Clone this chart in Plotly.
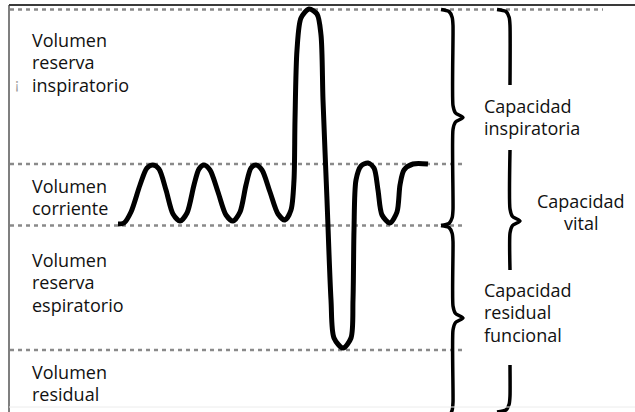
import plotly.graph_objects as go

# ---- Spirogram trace (time axis, volume axis; arbitrary units) ----
time = [118, 124, 131, 140, 147, 153, 159, 166, 173, 180, 187, 194, 199, 204, 210, 218,
        226, 233, 240, 246, 251, 256, 262, 270, 278, 285, 291, 294, 295, 297, 301, 309,
        317, 321, 323, 327, 331, 334, 343, 351, 353, 354, 356, 361, 368, 374, 378, 382,
        390, 397, 400, 404, 413, 428]
volume = [188, 189, 200, 227, 244, 247, 243, 222, 198, 191, 199, 227, 243, 247, 242, 220,
          197, 191, 200, 227, 244, 247, 242, 220, 198, 192, 202, 232, 292, 362, 394, 403,
          398, 377, 312, 212, 112, 74, 64, 74, 112, 182, 232, 246, 249, 244, 222, 197,
          189, 200, 227, 242, 248, 248]

# ---- Reference levels (dotted lines) ----
level_volume = [402.5, 248, 186.5, 62]
level_end = [603, 466, 466, 466]
level_start = 10

# ---- Volume labels (left column) ----
vol_labels = [["Volumen", "reserva", "inspiratorio"],
              ["Volumen", "corriente"],
              ["Volumen", "reserva", "espiratorio"],
              ["Volumen", "residual"]]
vol_label_top = [372, 226, 152, 40]

# ---- Capacity labels ----
cap_labels = [["Capacidad", "inspiratoria"],
              ["Capacidad", "vital"],
              ["Capacidad", "residual", "funcional"]]
cap_label_top = [306, 211, 122]
cap_label_x = [482, 581, 482]
cap_label_anchor = ["left", "center", "left"]

# ---- Braces: (x, top, bottom, tip, curl, gaps) ----
braces = [
    (453, 402.5, 186.5, 294.5, 12, []),
    (453, 186.5, -6, 94, 12, []),
    (510, 402.5, 0, 191, 13, [(327, 262), (142, 47)]),
]

W, H = 635, 412
fig = go.Figure()

# dotted level lines
for v, xe in zip(level_volume, level_end):
    fig.add_trace(go.Scatter(x=[level_start, xe], y=[v, v], mode="lines",
                             line=dict(color="#8a8a8a", width=2.5, dash="4px,4px"),
                             hoverinfo="skip", showlegend=False))

# spirogram
fig.add_trace(go.Scatter(x=time, y=volume, mode="lines",
                         line=dict(color="black", width=5, shape="spline", smoothing=0.8),
                         hoverinfo="skip", showlegend=False))


def vertical(x, y1, y2, gaps):
    out = [(x, y1)]
    for g_hi, g_lo in gaps:
        if y1 > g_hi > y2:
            out += [(x, g_hi), (None, None), (x, g_lo)]
    out.append((x, y2))
    return out


def brace_pts(x, top, bottom, tip, curl, gaps, tipw=10):
    pts = [(x - curl, top), (x - 4, top - 2), (x - 0.8, top - 8)]
    pts += vertical(x, top - 16, tip + 12, gaps)
    pts += [(x + 2.5, tip + 4.5), (x + tipw, tip), (x + 2.5, tip - 4.5)]
    pts += vertical(x, tip - 12, bottom + 16, gaps)
    pts += [(x - 0.8, bottom + 8), (x - 4, bottom + 2), (x - curl, bottom)]
    return pts


for bx, bt, bb, btip, bc, bg in braces:
    pts = brace_pts(bx, bt, bb, btip, bc, bg)
    fig.add_trace(go.Scatter(x=[p[0] for p in pts], y=[p[1] for p in pts], mode="lines",
                             line=dict(color="black", width=3.5, shape="spline", smoothing=0.6),
                             connectgaps=False, hoverinfo="skip", showlegend=False))

font = dict(family="Open Sans", size=18, color="#111111")
annotations = []
LS = 22.3
for lines, top in zip(vol_labels, vol_label_top):
    for i, t in enumerate(lines):
        annotations.append(dict(x=30, y=top - i * LS, text=t, showarrow=False,
                                xanchor="left", yanchor="middle", font=font))
for lines, top, cx, anc in zip(cap_labels, cap_label_top, cap_label_x, cap_label_anchor):
    for i, t in enumerate(lines):
        annotations.append(dict(x=cx, y=top - i * LS, text=t, showarrow=False,
                                xanchor=anc, yanchor="middle", font=font))
# faint artifact mark
annotations.append(dict(x=17, y=H - 83, text="¡", showarrow=False, xanchor="center",
                        yanchor="middle", font=dict(family="Open Sans", size=15, color="#9a9a9a")))

shapes = [
    dict(type="line", x0=9, x1=9, y0=H - 5, y1=0, line=dict(color="#555555", width=1.5)),
    dict(type="line", x0=9, x1=W, y0=H - 5, y1=H - 5, line=dict(color="#3a3a3a", width=2)),
    dict(type="line", x0=9, x1=W, y0=H - 407, y1=H - 407, line=dict(color="#ececec", width=1)),
]

fig.update_layout(
    width=W, height=H, margin=dict(l=0, r=0, t=0, b=0),
    paper_bgcolor="white", plot_bgcolor="white",
    xaxis=dict(range=[0, W], visible=False, fixedrange=True),
    yaxis=dict(range=[0, H], visible=False, fixedrange=True),
    annotations=annotations, shapes=shapes, showlegend=False,
)

fig.write_html("out.html", config={"displayModeBar": False},
               post_script="document.body.style.margin='0px';document.body.style.padding='0px';")
